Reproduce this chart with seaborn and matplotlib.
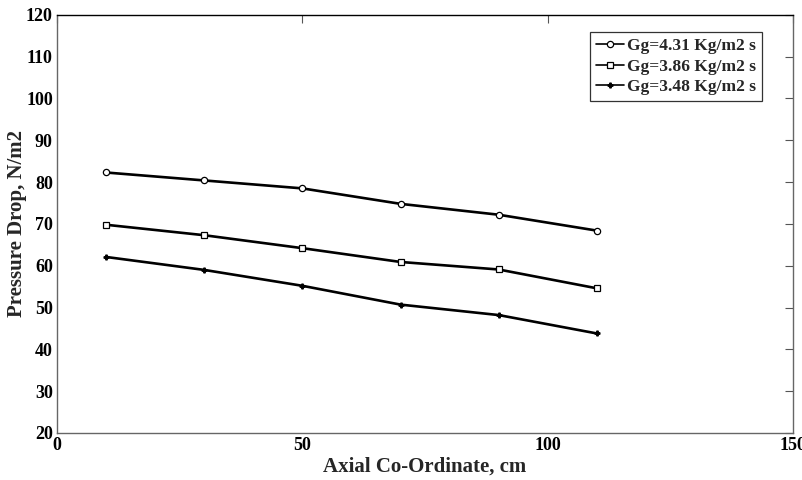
import matplotlib
matplotlib.use("Agg")
import matplotlib.pyplot as plt
import seaborn as sns
import pandas as pd

x_vals = [10, 30, 50, 70, 90, 110]
gg431 = [82.3, 80.4, 78.5, 74.8, 72.2, 68.4]
gg386 = [69.8, 67.3, 64.2, 60.9, 59.1, 54.6]
gg348 = [62.1, 59.0, 55.2, 50.7, 48.2, 43.8]
labels = ["Gg=4.31 Kg/m2 s", "Gg=3.86 Kg/m2 s", "Gg=3.48 Kg/m2 s"]
x_ticks = [0, 50, 100, 150]
y_ticks = list(range(20, 121, 10))

sns.set_theme(style="white")
plt.rcParams['font.family'] = ['Liberation Serif', 'DejaVu Serif']
plt.rcParams['font.weight'] = 'bold'

df = pd.DataFrame({
    "x": x_vals * 3,
    "y": gg431 + gg386 + gg348,
    "series": [labels[0]] * 6 + [labels[1]] * 6 + [labels[2]] * 6,
})

fig = plt.figure(figsize=(8.02, 4.80), dpi=100)
ax = fig.add_axes([0.071, 0.098, 0.918, 0.871])

markers = {labels[0]: "o", labels[1]: "s", labels[2]: "P"}
sns.lineplot(data=df, x="x", y="y", hue="series", style="series",
             palette=["black"] * 3, markers=markers, dashes=False,
             markersize=4.5, markerfacecolor="white", markeredgecolor="black",
             markeredgewidth=0.9, linewidth=1.9, ax=ax, legend=True)

for line in ax.lines:
    if line.get_marker() == "P":
        line.set_markerfacecolor("black")
        line.set_markersize(3.5)

ax.set_xlim(0, 150)
ax.set_ylim(20, 120)
ax.set_xticks(x_ticks)
ax.set_yticks(y_ticks)
ax.tick_params(direction="in", top=True, right=True, length=6, width=0.8,
               labelsize=13, pad=3, colors="black")
ax.tick_params(color="#555555")
for lab in ax.get_xticklabels() + ax.get_yticklabels():
    lab.set_fontweight("bold")
for name, s in ax.spines.items():
    s.set_color("black" if name == "top" else "#666666")
    s.set_linewidth(1.0)

ax.set_xlabel("Axial Co-Ordinate, cm", fontsize=15, fontweight="bold", labelpad=2)
ax.set_ylabel("Pressure Drop, N/m2", fontsize=15, fontweight="bold")
ax.yaxis.set_label_coords(-0.041, 0.5)

handles, labs = ax.get_legend_handles_labels()
leg = ax.legend(handles, labs, loc="upper right", bbox_to_anchor=(0.97, 0.98),
                frameon=True, fancybox=False, edgecolor="black",
                handlelength=1.6, handletextpad=0.2, borderpad=0.35,
                labelspacing=0.25, prop={"weight": "bold", "size": 12.5})
leg.get_frame().set_linewidth(0.9)
for h in leg.legend_handles:
    h.set_linewidth(1.2)

fig.savefig("out.png", dpi=100)
